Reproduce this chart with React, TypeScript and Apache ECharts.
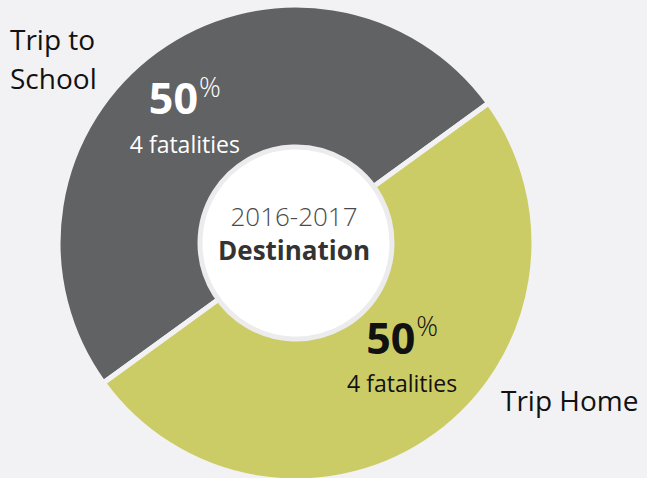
import React, { useEffect, useRef } from "react";
import * as echarts from "echarts";

const categories = ["Trip to School", "Trip Home"];
const fatalities = [4, 4];
const sliceColors = ["#616264", "#cccc66"];
const labelColors = ["#ffffff", "#111111"];
const nameLines = [["Trip to", "School"], ["Trip Home"]];
const centerTitle = "2016-2017";
const centerSubtitle = "Destination";

const BG = "#f2f2f4";
const FONT = "'Open Sans', 'Noto Sans', sans-serif";

export default function App() {
  const ref = useRef<HTMLDivElement>(null);
  useEffect(() => {
    if (!ref.current) return;
    const chart = echarts.init(ref.current, undefined, { renderer: "svg" });
    const cx = 296;
    const cy = 243;
    const option: any = {
      animation: false,
      backgroundColor: BG,
      series: [
        {
          type: "pie",
          center: [cx, cy],
          radius: [90, 238],
          startAngle: 36,
          clockwise: false,
          silent: true,
          itemStyle: { borderColor: BG, borderWidth: 5 },
          labelLine: { show: false },
          label: {
            show: true,
            position: "inside",
            fontFamily: FONT,
            formatter: (p: any) =>
              `{num|${Math.round(p.percent)}}{pct|%}\n{sub|${p.value} fatalities}`,
            rich: {
              num: { fontSize: 43, fontWeight: "bold", fontFamily: FONT, lineHeight: 50 },
              pct: { fontSize: 27, fontWeight: 300, fontFamily: FONT, verticalAlign: "top", lineHeight: 30, padding: [0, 0, 14, 1] },
              sub: { fontSize: 23, fontFamily: FONT, lineHeight: 42 },
            },
          },
          labelLayout: (params: any) =>
            params.dataIndex === 0 ? { dx: -13, dy: 11 } : { dx: 8, dy: -20 },
          data: categories.map((name, i) => ({
            name,
            value: fatalities[i],
            itemStyle: { color: sliceColors[i] },
            label: {
              color: labelColors[i],
              rich: {
                num: { color: labelColors[i] },
                pct: { color: labelColors[i] },
                sub: { color: labelColors[i] },
              },
            },
          })),
        },
      ],
      graphic: [
        {
          type: "circle",
          z: 10,
          shape: { cx, cy, r: 96 },
          style: { fill: "#ffffff", stroke: "#ececee", lineWidth: 5 },
        },
        {
          type: "text",
          z: 11,
          x: cx - 2,
          y: 216,
          style: {
            text: centerTitle,
            fontSize: 26,
            fontWeight: 300,
            fontFamily: FONT,
            fill: "#4a4a4a",
            align: "center",
            verticalAlign: "middle",
          },
        },
        {
          type: "text",
          z: 11,
          x: cx - 2,
          y: 250,
          style: {
            text: centerSubtitle,
            fontSize: 26,
            fontWeight: "bold",
            fontFamily: FONT,
            fill: "#333333",
            align: "center",
            verticalAlign: "middle",
          },
        },
        {
          type: "text",
          z: 11,
          x: 10,
          y: 58,
          style: {
            text: nameLines[0].join("\n"),
            fontSize: 28,
            lineHeight: 39,
            fontFamily: FONT,
            fill: "#111111",
            align: "left",
            verticalAlign: "middle",
          },
        },
        {
          type: "text",
          z: 11,
          x: 501,
          y: 400,
          style: {
            text: nameLines[1].join("\n"),
            fontSize: 28,
            fontFamily: FONT,
            fill: "#111111",
            align: "left",
            verticalAlign: "middle",
          },
        },
      ],
    };
    chart.setOption(option);
    return () => chart.dispose();
  }, []);
  return (
    <div
      ref={ref}
      style={{ position: "fixed", left: 0, top: 0, width: 647, height: 478 }}
    />
  );
}
